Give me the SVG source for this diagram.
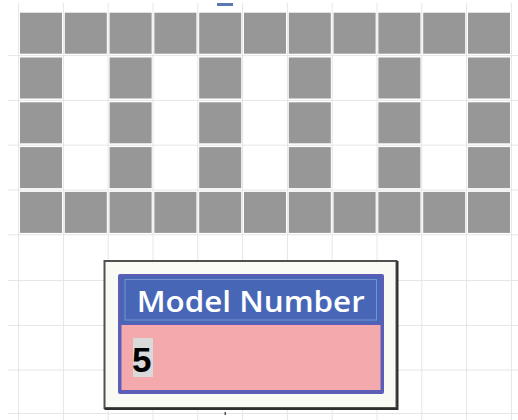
<svg xmlns="http://www.w3.org/2000/svg" xmlns:xlink="http://www.w3.org/1999/xlink" width="518" height="420" viewBox="0 0 518 420">
  <style>
    .grid line { stroke: #e6e6e6; stroke-width: 1; }
    .sq { fill: #979797; }
    .hdr { font-family: "Open Sans", "Liberation Sans", sans-serif; font-weight: 600; font-size: 29px; fill: #ffffff; }
    .val { font-family: "Liberation Sans", Arial, sans-serif; font-weight: 700; font-size: 35px; fill: #000000; }
  </style>
  <defs>
    <rect id="sq" width="42" height="41" class="sq"/>
  </defs>
  <rect width="518" height="420" fill="#ffffff"/>
  <g id="background-grid" class="grid">
    <line x1="18.6" y1="3" x2="18.6" y2="420"/>
    <line x1="63.4" y1="3" x2="63.4" y2="420"/>
    <line x1="108.2" y1="3" x2="108.2" y2="420"/>
    <line x1="153" y1="3" x2="153" y2="420"/>
    <line x1="197.8" y1="3" x2="197.8" y2="420"/>
    <line x1="242.6" y1="3" x2="242.6" y2="420"/>
    <line x1="287.4" y1="3" x2="287.4" y2="420"/>
    <line x1="332.2" y1="3" x2="332.2" y2="420"/>
    <line x1="377" y1="3" x2="377" y2="420"/>
    <line x1="421.8" y1="3" x2="421.8" y2="420"/>
    <line x1="466.6" y1="3" x2="466.6" y2="420"/>
    <line x1="511.4" y1="3" x2="511.4" y2="420"/>
    <line x1="8" y1="55.6" x2="518" y2="55.6"/>
    <line x1="8" y1="100.4" x2="518" y2="100.4"/>
    <line x1="8" y1="145.2" x2="518" y2="145.2"/>
    <line x1="8" y1="190" x2="518" y2="190"/>
    <line x1="8" y1="234.8" x2="518" y2="234.8"/>
    <line x1="8" y1="280.5" x2="518" y2="280.5"/>
    <line x1="8" y1="325.5" x2="518" y2="325.5"/>
    <line x1="8" y1="370" x2="518" y2="370"/>
    <line x1="8" y1="413.5" x2="518" y2="413.5"/>
  </g>
  <rect x="217" y="3" width="16" height="3" fill="#5b78b0"/>
  <g id="squares">
    <use xlink:href="#sq" x="20" y="12.7"/><use xlink:href="#sq" x="64.8" y="12.7"/><use xlink:href="#sq" x="109.6" y="12.7"/><use xlink:href="#sq" x="154.4" y="12.7"/><use xlink:href="#sq" x="199.2" y="12.7"/><use xlink:href="#sq" x="244" y="12.7"/><use xlink:href="#sq" x="288.8" y="12.7"/><use xlink:href="#sq" x="333.6" y="12.7"/><use xlink:href="#sq" x="378.4" y="12.7"/><use xlink:href="#sq" x="423.2" y="12.7"/><use xlink:href="#sq" x="468" y="12.7"/>
    <use xlink:href="#sq" x="20" y="57.5"/><use xlink:href="#sq" x="109.6" y="57.5"/><use xlink:href="#sq" x="199.2" y="57.5"/><use xlink:href="#sq" x="288.8" y="57.5"/><use xlink:href="#sq" x="378.4" y="57.5"/><use xlink:href="#sq" x="468" y="57.5"/>
    <use xlink:href="#sq" x="20" y="102.3"/><use xlink:href="#sq" x="109.6" y="102.3"/><use xlink:href="#sq" x="199.2" y="102.3"/><use xlink:href="#sq" x="288.8" y="102.3"/><use xlink:href="#sq" x="378.4" y="102.3"/><use xlink:href="#sq" x="468" y="102.3"/>
    <use xlink:href="#sq" x="20" y="147.1"/><use xlink:href="#sq" x="109.6" y="147.1"/><use xlink:href="#sq" x="199.2" y="147.1"/><use xlink:href="#sq" x="288.8" y="147.1"/><use xlink:href="#sq" x="378.4" y="147.1"/><use xlink:href="#sq" x="468" y="147.1"/>
    <use xlink:href="#sq" x="20" y="191.9"/><use xlink:href="#sq" x="64.8" y="191.9"/><use xlink:href="#sq" x="109.6" y="191.9"/><use xlink:href="#sq" x="154.4" y="191.9"/><use xlink:href="#sq" x="199.2" y="191.9"/><use xlink:href="#sq" x="244" y="191.9"/><use xlink:href="#sq" x="288.8" y="191.9"/><use xlink:href="#sq" x="333.6" y="191.9"/><use xlink:href="#sq" x="378.4" y="191.9"/><use xlink:href="#sq" x="423.2" y="191.9"/><use xlink:href="#sq" x="468" y="191.9"/>
  </g>
  <g id="model-number-box">
    <rect x="104.5" y="261" width="292" height="147" fill="#fafaf5" stroke="#505050" stroke-width="2"/>
    <path d="M397.5 261 V409 H104.5" fill="none" stroke="#2e2e2e" stroke-width="2"/>
    <rect x="118" y="274" width="266" height="120" rx="2" fill="#5b5db7"/>
    <rect x="121" y="276.5" width="260" height="47" fill="#4767b6"/>
    <rect x="125" y="279.5" width="251.5" height="40.5" fill="none" stroke="#7b8fd2" stroke-width="1"/>
    <text class="hdr" x="136.7" y="311.5" textLength="228" lengthAdjust="spacingAndGlyphs">Model Number</text>
    <rect x="121.5" y="325" width="259" height="65" fill="#f4aaad"/>
    <rect x="133" y="338" width="20" height="39" fill="#d9d9d9"/>
    <text class="val" x="132" y="372">5</text>
  </g>
  <rect x="224.5" y="412" width="1.5" height="3" fill="#555555"/>
</svg>
